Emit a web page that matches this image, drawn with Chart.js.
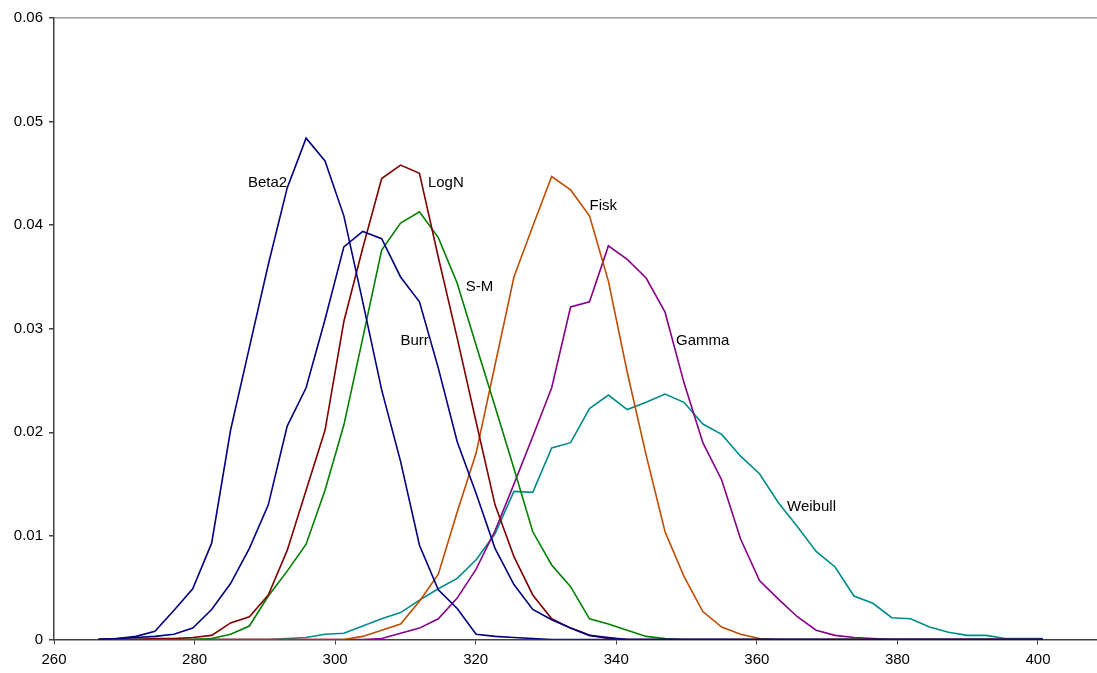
<!DOCTYPE html>
<html>
<head>
<meta charset="utf-8">
<script src="https://cdn.jsdelivr.net/npm/chart.js@4.4.1/dist/chart.umd.min.js"></script>
<style>
    html, body { margin: 0; padding: 0; background: #ffffff; overflow: hidden; }
    #chartBox { width: 1097px; height: 673px; }
</style>
</head>
<body>
<div id="chartBox"><canvas id="densityChart" width="1097" height="673"></canvas></div>
<script>
// x values shared by every curve
const xValues = [
    266.30, 268.99, 271.68, 274.36, 277.05, 279.74, 282.43, 285.12, 287.80, 290.49,
    293.18, 295.87, 298.56, 301.24, 303.93, 306.62, 309.31, 312.00, 314.68, 317.37,
    320.06, 322.75, 325.44, 328.12, 330.81, 333.50, 336.19, 338.88, 341.56, 344.25,
    346.94, 349.63, 352.32, 355.00, 357.69, 360.38, 363.07, 365.76, 368.44, 371.13,
    373.82, 376.51, 379.20, 381.88, 384.57, 387.26, 389.95, 392.64, 395.32, 398.01,
    400.70
];

const xTickLabels = [260, 280, 300, 320, 340, 360, 380, 400];

const beta2 = [
    0.0000, 0.0001, 0.0003, 0.0008, 0.0028, 0.0049, 0.0093, 0.0202, 0.0282, 0.0362,
    0.0436, 0.0484, 0.0462, 0.0409, 0.0326, 0.0241, 0.0172, 0.0091, 0.0048, 0.0030,
    0.0005, 0.0003, 0.0002, 0.0001, 0, 0, 0, 0, 0, 0,
    0, 0, 0, 0, 0, 0, 0, 0, 0, 0,
    0, 0, 0, 0, 0, 0, 0, 0, 0, 0,
    0
];

const burr = [
    0.0000, 0.0001, 0.0002, 0.0003, 0.0005, 0.0011, 0.0029, 0.0054, 0.0088, 0.0130,
    0.0206, 0.0243, 0.0309, 0.0379, 0.0394, 0.0387, 0.0350, 0.0326, 0.0262, 0.0191,
    0.0141, 0.0088, 0.0053, 0.0029, 0.0019, 0.0011, 0.0004, 0.0002, 0.0000, 0,
    0, 0, 0, 0, 0, 0, 0, 0, 0, 0,
    0, 0, 0, 0, 0, 0, 0, 0, 0, 0,
    0
];

const logN = [
    0, 0, 0, 0.0001, 0.0001, 0.0002, 0.0004, 0.0016, 0.0022, 0.0043,
    0.0086, 0.0144, 0.0202, 0.0307, 0.0378, 0.0445, 0.0458, 0.0450, 0.0369, 0.0291,
    0.0210, 0.0130, 0.0080, 0.0043, 0.0020, 0.0011, 0.0004, 0.0001, 0, 0,
    0, 0, 0, 0, 0, 0, 0, 0, 0, 0,
    0, 0, 0, 0, 0, 0, 0, 0, 0, 0,
    0
];

const sm = [
    0, 0, 0, 0, 0, 0, 0.0001, 0.0005, 0.0013, 0.0042,
    0.0066, 0.0092, 0.0144, 0.0207, 0.0291, 0.0376, 0.0402, 0.0413, 0.0388, 0.0344,
    0.0284, 0.0225, 0.0165, 0.0104, 0.0072, 0.0051, 0.0020, 0.0015, 0.0009, 0.0003,
    0.0001, 0, 0, 0, 0, 0, 0, 0, 0, 0,
    0, 0, 0, 0, 0, 0, 0, 0, 0, 0,
    0
];

const fisk = [
    0, 0, 0, 0, 0, 0, 0, 0, 0, 0,
    0, 0, 0, 0, 0.0003, 0.0009, 0.0015, 0.0037, 0.0063, 0.0123,
    0.0180, 0.0265, 0.0350, 0.0399, 0.0447, 0.0434, 0.0409, 0.0346, 0.0258, 0.0178,
    0.0104, 0.0061, 0.0027, 0.0012, 0.0005, 0.0001, 0, 0, 0, 0,
    0, 0, 0, 0, 0, 0, 0, 0, 0, 0,
    0
];

const gamma = [
    0, 0, 0, 0, 0, 0, 0, 0, 0, 0,
    0, 0, 0, 0, 0, 0.0001, 0.0006, 0.0011, 0.0020, 0.0040,
    0.0068, 0.0105, 0.0150, 0.0196, 0.0243, 0.0321, 0.0326, 0.0380, 0.0367, 0.0349,
    0.0316, 0.0248, 0.0190, 0.0154, 0.0097, 0.0057, 0.0039, 0.0022, 0.0009, 0.0004,
    0.0002, 0.0001, 0, 0, 0, 0, 0, 0, 0, 0,
    0
];

const weibull = [
    0, 0, 0, 0, 0, 0, 0, 0, 0, 0,
    0.0001, 0.0002, 0.0005, 0.0006, 0.0013, 0.0020, 0.0026, 0.0038, 0.0049, 0.0059,
    0.0077, 0.0102, 0.0143, 0.0142, 0.0185, 0.0190, 0.0223, 0.0236, 0.0222, 0.0229,
    0.0237, 0.0229, 0.0208, 0.0198, 0.0177, 0.0160, 0.0132, 0.0109, 0.0085, 0.0070,
    0.0042, 0.0035, 0.0021, 0.0020, 0.0012, 0.0007, 0.0004, 0.0004, 0.0001, 0.0001,
    0.0001
];

const seriesNames = ['Beta2', 'Burr', 'LogN', 'S-M', 'Fisk', 'Gamma', 'Weibull'];
const seriesValues = [beta2, burr, logN, sm, fisk, gamma, weibull];
const seriesColors = ['#000080', '#000080', '#800000', '#008000', '#c04c00', '#880088', '#008b8b'];

// text placed next to each curve (left edge, vertical middle, in data units)
const curveLabels = [
    { text: 'Beta2', x: 287.6, y: 0.0441 },
    { text: 'LogN', x: 313.2, y: 0.0441 },
    { text: 'Fisk', x: 336.2, y: 0.0419 },
    { text: 'S-M', x: 318.6, y: 0.0340 },
    { text: 'Burr', x: 309.3, y: 0.0288 },
    { text: 'Gamma', x: 348.5, y: 0.0288 },
    { text: 'Weibull', x: 364.3, y: 0.0128 }
];

const FONT = '"Liberation Sans", Arial, sans-serif';

const curveLabelPlugin = {
    id: 'curveLabels',
    afterDatasetsDraw(chart) {
        const ctx = chart.ctx;
        const xs = chart.scales.x;
        const ys = chart.scales.y;
        ctx.save();
        ctx.font = '15px ' + FONT;
        ctx.fillStyle = '#000000';
        ctx.textAlign = 'left';
        ctx.textBaseline = 'middle';
        curveLabels.forEach(lbl => {
            ctx.fillText(lbl.text, xs.getPixelForValue(lbl.x), ys.getPixelForValue(lbl.y));
        });
        ctx.restore();
    }
};

function buildDatasets() {
    return seriesNames.map((name, i) => ({
        label: name,
        data: xValues.map((x, k) => ({ x: x, y: seriesValues[i][k] })),
        borderColor: seriesColors[i],
        backgroundColor: seriesColors[i],
        borderWidth: 1.6,
        pointRadius: 0,
        tension: 0,
        fill: false
    }));
}

new Chart(document.getElementById('densityChart').getContext('2d'), {
    type: 'line',
    data: { datasets: buildDatasets() },
    plugins: [curveLabelPlugin],
    options: {
        responsive: false,
        animation: false,
        devicePixelRatio: 1,
        layout: { padding: { top: 18, right: 0, bottom: 0, left: 0 } },
        plugins: {
            legend: { display: false },
            tooltip: { enabled: false }
        },
        scales: {
            x: {
                type: 'linear',
                min: 260,
                max: 408.4,
                afterBuildTicks: scale => {
                    scale.ticks = xTickLabels.map(v => ({ value: v }));
                },
                afterFit: scale => { scale.height = 33.5; },
                ticks: {
                    color: '#000000',
                    padding: 6,
                    maxRotation: 0,
                    autoSkip: false,
                    font: { family: FONT, size: 15 },
                    callback: value => String(Math.round(value))
                },
                grid: {
                    drawOnChartArea: false,
                    tickColor: '#404040',
                    tickLength: 5
                },
                border: { color: '#404040', width: 1.5 }
            },
            y: {
                min: 0,
                max: 0.06,
                afterFit: scale => { scale.width = 54; },
                ticks: {
                    stepSize: 0.01,
                    color: '#000000',
                    padding: 6,
                    font: { family: FONT, size: 15 },
                    callback: value => (value === 0 ? '0' : value.toFixed(2))
                },
                grid: {
                    color: ctx => (ctx.tick && Math.abs(ctx.tick.value - 0.06) < 1e-9 ? '#a0a0a0' : 'rgba(0,0,0,0)'),
                    lineWidth: 1.5,
                    tickColor: '#404040',
                    tickLength: 5
                },
                border: { color: '#404040', width: 1.5 }
            }
        }
    }
});
</script>
</body>
</html>
